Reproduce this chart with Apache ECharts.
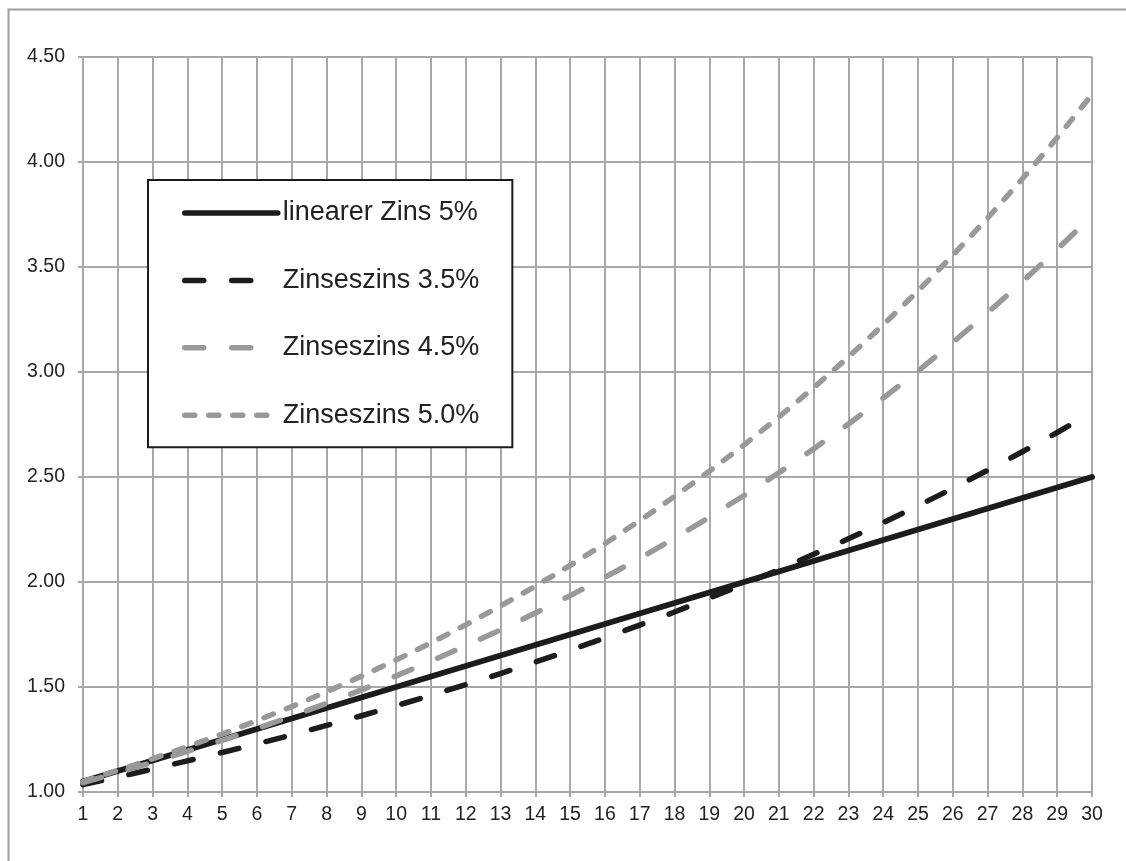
<!DOCTYPE html>
<html>
<head>
<meta charset="utf-8">
<title>Zins und Zinseszins</title>
<script src="https://cdn.jsdelivr.net/npm/echarts@6/dist/echarts.min.js"></script>
<style>
  html, body { margin: 0; padding: 0; background: #fff; }
  #chart { width: 1126px; height: 861px; }
</style>
</head>
<body>
<div id="chart"></div>
<script>
// Jahre (Kategorien der x-Achse)
const years = ['1','2','3','4','5','6','7','8','9','10','11','12','13','14','15',
               '16','17','18','19','20','21','22','23','24','25','26','27','28','29','30'];

// Kapitalfaktor bei linearem Zins 5%
const linear5 = [1.05,1.10,1.15,1.20,1.25,1.30,1.35,1.40,1.45,1.50,1.55,1.60,1.65,1.70,1.75,
                 1.80,1.85,1.90,1.95,2.00,2.05,2.10,2.15,2.20,2.25,2.30,2.35,2.40,2.45,2.50];

// Kapitalfaktor bei Zinseszins 3.5%
const compound35 = [1.035,1.071,1.109,1.148,1.188,1.229,1.272,1.317,1.363,1.411,1.460,1.511,1.564,1.619,1.675,
                    1.734,1.795,1.857,1.923,1.990,2.059,2.132,2.206,2.283,2.363,2.446,2.532,2.620,2.712,2.807];

// Kapitalfaktor bei Zinseszins 4.5%
const compound45 = [1.045,1.092,1.141,1.193,1.246,1.302,1.361,1.422,1.486,1.553,1.623,1.696,1.772,1.852,1.935,
                    2.022,2.113,2.209,2.308,2.412,2.520,2.634,2.752,2.876,3.005,3.141,3.282,3.430,3.584,3.745];

// Kapitalfaktor bei Zinseszins 5.0%
const compound50 = [1.050,1.103,1.158,1.216,1.276,1.340,1.407,1.477,1.551,1.629,1.710,1.796,1.886,1.980,2.079,
                    2.183,2.292,2.407,2.527,2.653,2.786,2.925,3.072,3.225,3.386,3.556,3.733,3.920,4.116,4.322];

const seriesNames = ['linearer Zins 5%', 'Zinseszins 3.5%', 'Zinseszins 4.5%', 'Zinseszins 5.0%'];

const DARK = '#1c1c1c';
const GREY = '#999999';
const GRID = '#a8a8a8';
const FONT = '"Liberation Sans", Arial, sans-serif';

const chart = echarts.init(document.getElementById('chart'), null, { renderer: 'canvas' });

function lineSeries(name, data, color, width, dash) {
  return {
    name: name,
    type: 'line',
    data: data,
    showSymbol: false,
    symbol: 'none',
    smooth: false,
    lineStyle: { color: color, width: width, type: dash, cap: 'round', join: 'round' },
    itemStyle: { color: color },
    emphasis: { disabled: true }
  };
}

chart.setOption({
  animation: false,
  backgroundColor: '#ffffff',
  textStyle: { fontFamily: FONT },
  graphic: [{
    type: 'rect',
    silent: true,
    z: -10,
    shape: { x: 8.5, y: 9.5, width: 2000, height: 2000 },
    style: { fill: null, stroke: '#9d9d9d', lineWidth: 2 }
  }],
  grid: { left: 83, right: 34, top: 57, bottom: 69, containLabel: false },
  legend: {
    show: true,
    orient: 'vertical',
    left: 148,
    top: 180,
    padding: [18, 33, 17, 34],
    itemWidth: 93,
    itemHeight: 30,
    itemGap: 37.4,
    backgroundColor: '#ffffff',
    borderColor: DARK,
    borderWidth: 2,
    borderRadius: 0,
    selectedMode: false,
    data: seriesNames,
    // legend keys show only the line, no marker
    itemStyle: { color: 'rgba(0,0,0,0)', borderWidth: 0, opacity: 0 },
    lineStyle: { width: 5.5, cap: 'round' },
    textStyle: { fontFamily: FONT, fontSize: 27, color: '#222222', lineHeight: 30 }
  },
  xAxis: {
    type: 'category',
    data: years,
    boundaryGap: false,
    axisLine: { show: true, lineStyle: { color: GRID, width: 2 } },
    axisTick: { show: true, length: 5, lineStyle: { color: GRID, width: 2 } },
    axisLabel: { fontFamily: FONT, fontSize: 19.5, color: '#222222', margin: 13, interval: 0 },
    splitLine: { show: true, interval: 0, lineStyle: { color: GRID, width: 2 } }
  },
  yAxis: {
    type: 'value',
    min: 1,
    max: 4.5,
    interval: 0.5,
    axisLine: { show: true, lineStyle: { color: GRID, width: 2 } },
    axisTick: { show: true, length: 5, lineStyle: { color: GRID, width: 2 } },
    axisLabel: {
      fontFamily: FONT, fontSize: 19.5, color: '#222222', margin: 18,
      formatter: v => v.toFixed(2)
    },
    splitLine: { show: true, lineStyle: { color: GRID, width: 2 } }
  },
  series: [
    lineSeries(seriesNames[0], linear5, DARK, 6, 'solid'),
    lineSeries(seriesNames[1], compound35, DARK, 5.5, [19, 28]),
    lineSeries(seriesNames[2], compound45, GREY, 5.5, [19, 28]),
    lineSeries(seriesNames[3], compound50, GREY, 5.5, [10, 14])
  ]
});
</script>
</body>
</html>
